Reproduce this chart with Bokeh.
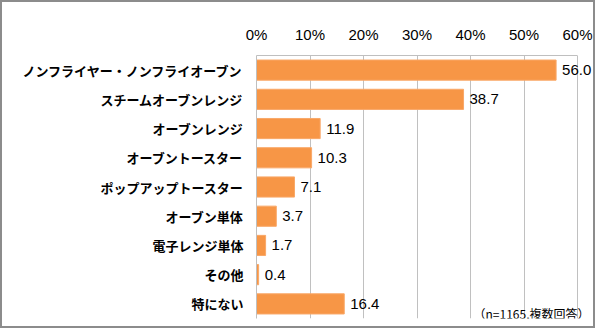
from bokeh.plotting import figure
from bokeh.models import FactorRange, Range1d, FixedTicker, PrintfTickFormatter, ColumnDataSource, Label, LabelSet
from bokeh.core.properties import value
from bokeh.embed import file_html
from bokeh.resources import INLINE

categories = ["ノンフライヤー・ノンフライオーブン", "スチームオーブンレンジ", "オーブンレンジ",
              "オーブントースター", "ポップアップトースター", "オーブン単体", "電子レンジ単体",
              "その他", "特にない"]
values = [56.0, 38.7, 11.9, 10.3, 7.1, 3.7, 1.7, 0.4, 16.4]
ticks = [0, 10, 20, 30, 40, 50, 60]
note = "（n=1165,複数回答）"

labels = [f"{v:.1f}" for v in values]
src = ColumnDataSource(dict(cat=categories, val=values, lab=labels))

# frame extends a little past 60% so value labels and the note are not clipped
x_end = 60 * 339 / 321

p = figure(width=595, height=328, output_backend="svg", toolbar_location=None,
           y_range=FactorRange(factors=list(reversed(categories)), range_padding=0),
           x_range=Range1d(0, x_end), x_axis_location="above",
           min_border_left=254, min_border_right=2, min_border_top=53, min_border_bottom=12)
p.styles = {"border": "2px solid #8c8c8c"}
p.outline_line_color = None
p.background_fill_color = "white"
p.border_fill_color = "white"

p.hbar(y="cat", right="val", left=0, height=0.69, source=src,
       fill_color="#F79646", line_color="#F9A868", line_width=1)
p.add_layout(LabelSet(x="val", y="cat", text="lab", source=src, x_offset=6, text_baseline="middle",
                      text_font=value("Liberation Sans"), text_font_size=value("15px"),
                      text_color="#000000"))

xa = p.xaxis[0]
xa.ticker = FixedTicker(ticks=ticks)
xa.bounds = (0, 60)
xa.formatter = PrintfTickFormatter(format="%d%%")
xa.major_label_text_font = "Liberation Sans"
xa.major_label_text_font_size = "15px"
xa.major_label_text_color = "#000000"
xa.major_tick_line_color = None
xa.minor_tick_line_color = None
xa.axis_line_color = "#BFBFBF"
xa.major_label_standoff = 7

ya = p.yaxis[0]
ya.major_label_text_font = "Noto Sans CJK JP"
ya.major_label_text_font_style = "bold"
ya.major_label_text_font_size = "13px"
ya.major_label_text_color = "#000000"
ya.major_tick_line_color = None
ya.minor_tick_line_color = None
ya.axis_line_color = "#BFBFBF"
ya.major_label_standoff = 7

p.xgrid.grid_line_color = "#C0C0C0"
p.xgrid.ticker = FixedTicker(ticks=ticks[1:])
p.ygrid.grid_line_color = None

p.add_layout(Label(x=333, y=5, x_units="screen", y_units="screen", text=note,
                   text_align="right", text_baseline="middle",
                   text_font="Noto Sans CJK JP", text_font_size="12px", text_color="#000000"))

open("out.html", "w").write(file_html(p, INLINE))
